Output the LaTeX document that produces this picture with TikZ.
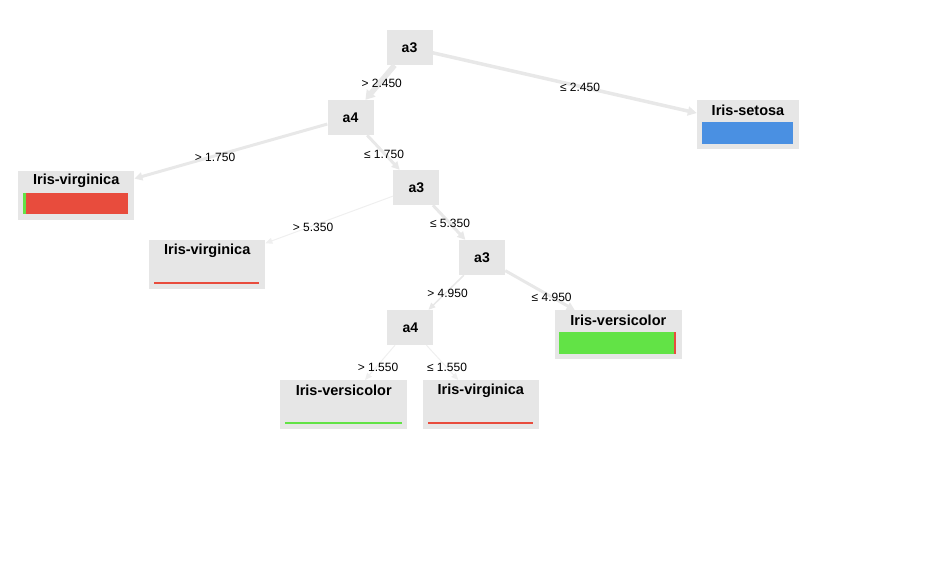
\documentclass[tikz,border=0pt]{standalone}
\usepackage{fontspec}
\setmainfont{Liberation Sans}
\usetikzlibrary{arrows.meta}
\definecolor{boxgrey}{HTML}{E6E6E6}
\definecolor{edgegrey}{HTML}{E8E8E8}
\definecolor{barblue}{HTML}{4A90E2}
\definecolor{barred}{HTML}{E84C3D}
\definecolor{bargreen}{HTML}{62E346}
\tikzset{
  split/.style={fill=boxgrey, inner sep=0pt, minimum width=46pt, minimum height=35pt,
    font=\fontsize{14}{16}\selectfont\bfseries},
  leafbox/.style={fill=boxgrey, inner sep=0pt, minimum height=49pt},
  leaftitle/.style={inner sep=0pt, font=\fontsize{14.5}{16}\selectfont\bfseries},
  cond/.style={inner sep=0pt, font=\fontsize{12}{14}\selectfont},
  edge/.style={draw=edgegrey, line width=#1},
  edge/.default=3pt,
}
\begin{document}
\begin{tikzpicture}[x=1pt,y=-1pt]
\path[use as bounding box] (0,0) rectangle (944,565);

% decision nodes
\node[split] (n1) at (409.5,47.5) {a3};
\node[split] (n2) at (350.5,117.5) {a4};
\node[split] (n3) at (416.3,187.5) {a3};
\node[split] (n4) at (482,257.5) {a3};
\node[split] (n5) at (410.3,327.5) {a4};

% leaves
\node[leafbox, minimum width=102pt] (l1) at (748,124.7) {};
\node[leaftitle] at ([yshift=-10.5pt]l1.north) {Iris-setosa};
\fill[barblue] (702.3,121.7) rectangle (793.3,144);

\node[leafbox, minimum width=116pt] (l2) at (76.2,195) {};
\node[leaftitle] at ([yshift=-10.5pt]l2.north) {Iris-virginica};
\fill[barred] (23.3,193.3) rectangle (128.3,214);
\fill[bargreen] (23.3,193.3) rectangle (25.6,214);

\node[leafbox, minimum width=116pt] (l3) at (207.2,264.7) {};
\node[leaftitle] at ([yshift=-10.5pt]l3.north) {Iris-virginica};
\fill[barred] (154,282) rectangle (259.3,284);

\node[leafbox, minimum width=127pt] (l4) at (618.3,334.7) {};
\node[leaftitle] at ([yshift=-10.5pt]l4.north) {Iris-versicolor};
\fill[bargreen] (559,332.3) rectangle (676,354);
\fill[barred] (673.5,332.3) rectangle (676,354);

\node[leafbox, minimum width=127pt] (l5) at (343.7,404.7) {};
\node[leaftitle] at ([yshift=-10.5pt]l5.north) {Iris-versicolor};
\fill[bargreen] (285,422) rectangle (401.7,424);

\node[leafbox, minimum width=116pt] (l6) at (480.8,404.7) {};
\node[leaftitle] at ([yshift=-10.5pt]l6.north) {Iris-virginica};
\fill[barred] (428,422) rectangle (533.3,424);

% connectors
\draw[edge=5.5pt, -{Triangle[length=9pt,width=11pt]}] (n1) -- (n2);
\draw[edge=3.5pt, -{Triangle[length=9pt,width=9pt]}] (n1) -- (l1);
\draw[edge=3pt, -{Triangle[length=8pt,width=8pt]}] (n2) -- (l2);
\draw[edge=3pt, -{Triangle[length=8pt,width=8pt]}] (n2) -- (n3);
\draw[edge=1pt, draw=edgegrey!70, -{Triangle[length=7pt,width=6pt]}] (n3) -- (l3);
\draw[edge=3pt, -{Triangle[length=8pt,width=8pt]}] (n3) -- (n4);
\draw[edge=1.5pt, -{Triangle[length=7pt,width=6pt]}] (n4) -- (n5);
\draw[edge=3pt, -{Triangle[length=8pt,width=8pt]}] (n4) -- (l4);
\draw[edge=1pt, draw=edgegrey!70, -{Triangle[length=7pt,width=6pt]}] (n5) -- (l5);
\draw[edge=1pt, draw=edgegrey!70, -{Triangle[length=7pt,width=6pt]}] (n5) -- (l6);

% conditions
\node[cond] (c1) at (381.7,83.5) {> 2.450};
\node[cond] (c2) at (580,87) {≤ 2.450};
\node[cond] (c3) at (215,157) {> 1.750};
\node[cond] (c4) at (384,154) {≤ 1.750};
\node[cond] (c5) at (313,227) {> 5.350};
\node[cond] (c6) at (450,223.5) {≤ 5.350};
\node[cond] (c7) at (447.5,293.5) {> 4.950};
\node[cond] (c8) at (551.7,297) {≤ 4.950};
\node[cond] (c9) at (378,367) {> 1.550};
\node[cond] (c10) at (447,367) {≤ 1.550};
\end{tikzpicture}
\end{document}
